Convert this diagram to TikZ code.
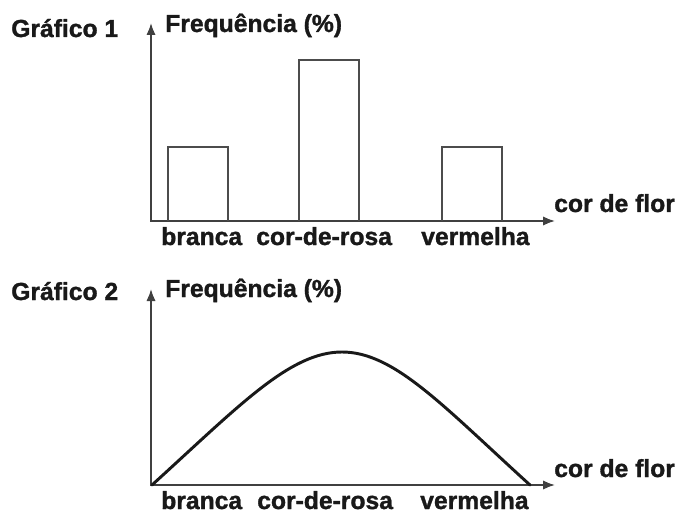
\documentclass[tikz,border=0pt]{standalone}
\usepackage{fontspec}
\setmainfont{Liberation Sans}[BoldFeatures={FakeBold=1.3}]
\usetikzlibrary{arrows.meta}
\begin{document}
\begin{tikzpicture}[x=0.75pt,y=-0.75pt,
  lbl/.style={anchor=base west,inner sep=0pt,text=black!90,font=\fontsize{18.5pt}{22pt}\selectfont\bfseries},
  axis/.style={draw=black!75,line width=1.3pt,{Latex[length=9pt,width=7pt]}-{Latex[length=9pt,width=7pt]}},
  bar/.style={draw=black!70,line width=1.3pt},
  hump/.style={draw=black!90,line width=2.2pt,line cap=round}]
\useasboundingbox[fill=white] (0,0) rectangle (681,513);
% Graph 1
\coordinate (y1) at (151,23);
\coordinate (x1) at (555,221);
\draw[axis] (y1) |- (x1);
\draw[bar] (168,221) -- (168,147) -- (228,147) -- (228,221);
\draw[bar] (299,221) -- (299,60) -- (359,60) -- (359,221);
\draw[bar] (442,221) -- (442,147) -- (502,147) -- (502,221);
\node[lbl] (g1) at (11,37) {Gráfico 1};
\node[lbl] (f1) at (165,32) {Frequência (\%)};
\node[lbl] (c1) at (554,212) {cor de flor};
\node[lbl] (b1) at (161,245) {branca};
\node[lbl] (r1) at (256,245) {cor-de-rosa};
\node[lbl] (v1) at (421,245) {vermelha};
% Graph 2
\coordinate (y2) at (151,289);
\coordinate (x2) at (555,485);
\draw[axis] (y2) |- (x2);
\coordinate (s2) at (152,485);
\coordinate (p2) at (342,352);
\coordinate (e2) at (530,485);
\draw[hump] (s2) .. controls (240,405) and (290,352) .. (p2)
  .. controls (394,352) and (442,405) .. (e2);
\node[lbl] (g2) at (11,300) {Gráfico 2};
\node[lbl] (f2) at (165,297) {Frequência (\%)};
\node[lbl] (c2) at (554,477) {cor de flor};
\node[lbl] (b2) at (161,509) {branca};
\node[lbl] (r2) at (257,509) {cor-de-rosa};
\node[lbl] (v2) at (420,509) {vermelha};
\end{tikzpicture}
\end{document}
